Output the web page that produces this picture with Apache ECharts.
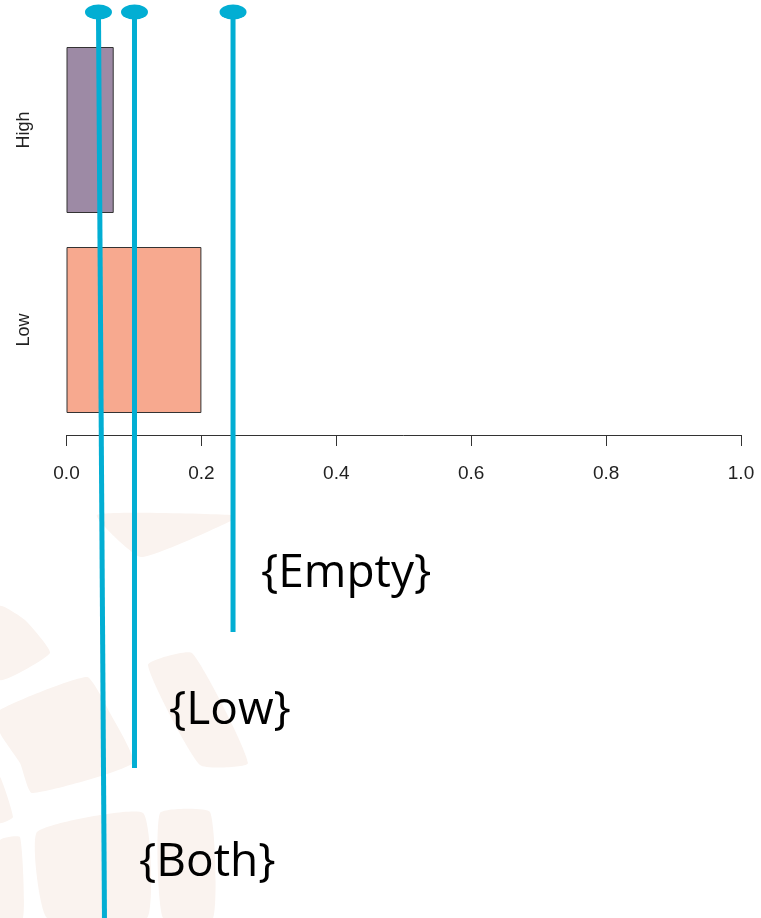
<!DOCTYPE html>
<html>
<head>
<meta charset="utf-8">
<script src="https://cdn.jsdelivr.net/npm/echarts@6/dist/echarts.min.js"></script>
<style>
html,body{margin:0;padding:0;background:#fff;}
#chart{width:761px;height:918px;}
</style>
</head>
<body>
<div id="chart"></div>
<script>
// Data
var categories = ['Low', 'High'];
var barValues = [0.2, 0.07];
var barColors = ['#f7a98f', '#9d8aa5'];
var xTicks = [0.0, 0.2, 0.4, 0.6, 0.8, 1.0];

// Annotation markers (value on the x scale at top / bottom of the stem)
var annotNames = ['{Both}', '{Low}', '{Empty}'];
var annotXTop = [0.0474, 0.1008, 0.2469];
var annotXBottom = [0.0563, 0.1008, 0.2469];
var annotYTop = [12, 12, 12];
var annotYBottom = [918, 768, 632];

var chart = echarts.init(document.getElementById('chart'), null, {renderer: 'canvas'});

var wm = '#faf3ef';
var wmShapes = [
  [[97,515],[231,515],[231,521],[141,557]],
  [[0,606],[25,620],[50,653],[0,680]],
  [[0,710],[87,677],[110,713],[133,763],[32,793],[20,763],[0,733]],
  [[148,665],[192,653],[248,763],[200,765]],
  [[37,832],[143,813],[147,918],[47,918]],
  [[160,813],[210,812],[213,918],[163,918]],
  [[0,840],[20,837],[23,918],[0,918]],
  [[0,777],[13,817],[0,823]]
];
var graphics = wmShapes.map(function (pts) {
  return {type: 'polygon', z: -10, silent: true, shape: {points: pts, smooth: 0.15}, style: {fill: wm}};
});

var annotSeries = [];
for (var i = 0; i < annotNames.length; i++) {
  annotSeries.push({
    type: 'line', xAxisIndex: 1, yAxisIndex: 1, z: 10,
    data: [[annotXTop[i], annotYTop[i]], [annotXBottom[i], annotYBottom[i]]],
    symbol: 'none', lineStyle: {color: '#02aed3', width: 5}, silent: true,
    animation: false
  });
}
annotSeries.push({
  type: 'scatter', xAxisIndex: 1, yAxisIndex: 1, z: 11,
  data: annotXTop.map(function (x, i) { return [x, annotYTop[i]]; }),
  symbol: 'circle', symbolSize: [27, 15],
  itemStyle: {color: '#02aed3', opacity: 1}, silent: true, animation: false
});

var labelFont = '46px "Open Sans"';
var labelPos = [[139, 863], [169, 711], [261, 574]];
annotNames.forEach(function (t, i) {
  graphics.push({
    type: 'text', z: 20, silent: true,
    x: labelPos[i][0], y: labelPos[i][1],
    style: {text: t, font: labelFont, fill: '#000', verticalAlign: 'middle', align: 'left'}
  });
});

chart.setOption({
  backgroundColor: '#ffffff',
  animation: false,
  graphic: graphics,
  grid: [
    {left: 66.5, right: 20, top: 30, bottom: 488, containLabel: false},
    {left: 66.5, right: 20, top: 0, bottom: 0, containLabel: false}
  ],
  xAxis: [
    {
      type: 'value', gridIndex: 0, min: 0, max: 1, interval: 0.2, offset: 5,
      axisLine: {show: true, lineStyle: {color: '#333', width: 1}},
      axisTick: {show: true, length: 11, lineStyle: {color: '#333', width: 1}},
      splitLine: {show: false},
      axisLabel: {
        margin: 29, fontSize: 19, color: '#222', fontFamily: 'Liberation Sans, Arial',
        formatter: function (v) { return v.toFixed(1); }
      }
    },
    {type: 'value', gridIndex: 1, min: 0, max: 1, show: false}
  ],
  yAxis: [
    {
      type: 'category', gridIndex: 0, data: categories,
      axisLine: {show: false}, axisTick: {show: false}, splitLine: {show: false},
      axisLabel: {rotate: 90, margin: 33, fontSize: 18, color: '#222', fontFamily: 'Liberation Sans, Arial'}
    },
    {type: 'value', gridIndex: 1, min: 0, max: 918, inverse: true, show: false}
  ],
  series: [{
    type: 'bar', xAxisIndex: 0, yAxisIndex: 0, barWidth: 166,
    data: barValues.map(function (v, i) {
      return {value: v, itemStyle: {color: barColors[i], borderColor: '#333', borderWidth: 1}};
    }),
    silent: true
  }].concat(annotSeries)
});
</script>
</body>
</html>
